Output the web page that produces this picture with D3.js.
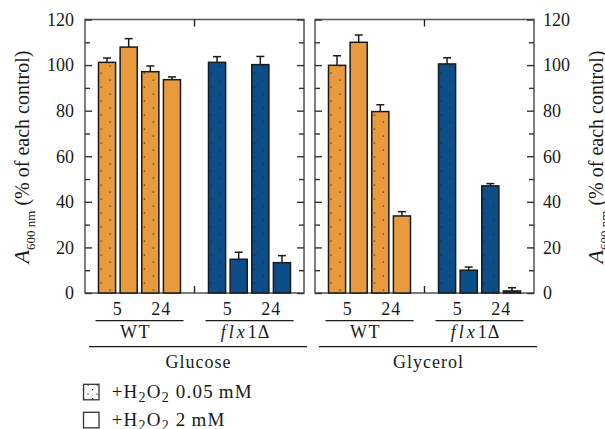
<!DOCTYPE html>
<html>
<head>
<meta charset="utf-8">
<script src="https://cdn.jsdelivr.net/npm/d3@7"></script>
<style>
    body { margin: 0; background: #fff; }
    text { font-family: "Liberation Serif", serif; fill: #1a1a1a; }
</style>
</head>
<body>
<svg id="chart"></svg>
<script>
// Data
const media = ["Glucose", "Glycerol"];
const strains = ["WT", "flx1Δ"];
const times = ["5", "24"];
const doses = ["0.05 mM", "2 mM"];
// order: strain, time, dose
const glucoseMean = [101.2, 107.9, 97.1, 93.6, 101.2, 14.8, 100.2, 13.3];
const glucoseErr = [1.9, 3.7, 2.5, 1.2, 2.5, 3.1, 3.6, 3.1];
const glycerolMean = [99.9, 110.0, 79.6, 33.8, 100.5, 10.0, 47.0, 0.9];
const glycerolErr = [4.2, 3.2, 3.0, 1.9, 2.7, 1.4, 1.0, 1.4];
const yTicks = [0, 20, 40, 60, 80, 100, 120];
const yMinorTicks = [10, 30, 50, 70, 90, 110];

const colors = { "WT": "#E89A3C", "flx1Δ": "#0B4E8A" };

const width = 605;
const height = 429;
const svg = d3.select("#chart").attr("width", width).attr("height", height);

// Build flat rows
const means = { Glucose: glucoseMean, Glycerol: glycerolMean };
const errs = { Glucose: glucoseErr, Glycerol: glycerolErr };
const barKeys = [];
times.forEach((t) => doses.forEach((d) => barKeys.push(t + "|" + d)));
const rows = [];
media.forEach((m) => {
    strains.forEach((s, si) => {
        barKeys.forEach((k, ki) => {
            const i = si * 4 + ki;
            rows.push({ medium: m, strain: s, key: k, time: k.split("|")[0], dose: k.split("|")[1], value: means[m][i], err: errs[m][i] });
        });
    });
});

// Scales
const y = d3.scaleLinear().domain([0, 120]).range([293, 19.5]);
const xPanel = d3.scaleBand().domain(media).range([85, 534]).paddingInner(0.0478);
const xStrain = d3.scaleBand().domain(strains).range([0, xPanel.bandwidth()]).paddingInner(0.2545).paddingOuter(0.1227);
const xBar = d3.scaleBand().domain(barKeys).range([0, xStrain.bandwidth()]).paddingInner(0.209);

// Dot patterns
const defs = svg.append("defs");
function dotPattern(id, fill) {
    const p = defs.append("pattern").attr("id", id).attr("patternUnits", "userSpaceOnUse").attr("width", 18).attr("height", 14);
    p.append("rect").attr("width", 18).attr("height", 14).attr("fill", fill);
    p.append("rect").attr("x", 2).attr("y", 2.5).attr("width", 1.2).attr("height", 1.2).attr("fill", "#222");
    p.append("rect").attr("x", 11).attr("y", 9.5).attr("width", 1.2).attr("height", 1.2).attr("fill", "#222");
}
dotPattern("dots-WT", colors["WT"]);
dotPattern("dots-flx", colors["flx1Δ"]);
defs.append("pattern").attr("id", "dots-legend").attr("patternUnits", "userSpaceOnUse").attr("width", 9).attr("height", 9)
    .call((p) => {
        p.append("rect").attr("width", 9).attr("height", 9).attr("fill", "#fff");
        p.append("rect").attr("x", 2).attr("y", 2).attr("width", 1.2).attr("height", 1.2).attr("fill", "#222");
        p.append("rect").attr("x", 6.5).attr("y", 6.5).attr("width", 1.2).attr("height", 1.2).attr("fill", "#222");
    });

const frameColor = "#5e5e5e";

// Panel frames and ticks
media.forEach((m, mi) => {
    const x0 = xPanel(m);
    const x1 = x0 + xPanel.bandwidth();
    const g = svg.append("g");

    g.append("rect")
        .attr("x", x0).attr("y", y(120))
        .attr("width", x1 - x0).attr("height", y(0) - y(120))
        .attr("fill", "none").attr("stroke", frameColor).attr("stroke-width", 1.6);

    // middle ticks on top and bottom
    const xm = (x0 + x1) / 2;
    g.append("line").attr("x1", xm).attr("x2", xm).attr("y1", y(120)).attr("y2", y(120) + 7).attr("stroke", "#222").attr("stroke-width", 1.4);
    g.append("line").attr("x1", xm).attr("x2", xm).attr("y1", y(0)).attr("y2", y(0) - 7).attr("stroke", "#222").attr("stroke-width", 1.4);

    // edge ticks point inward
    const leftAxis = d3.axisLeft(y).tickValues(yTicks).tickSize(-7).tickSizeOuter(0).tickPadding(11)
        .tickFormat(mi === 0 ? d3.format("d") : "");
    const leftMinor = d3.axisLeft(y).tickValues(yMinorTicks).tickSize(-5).tickSizeOuter(0).tickFormat("");
    const rightAxis = d3.axisRight(y).tickValues(yTicks).tickSize(-7).tickSizeOuter(0).tickPadding(9)
        .tickFormat(mi === 1 ? d3.format("d") : "");
    const rightMinor = d3.axisRight(y).tickValues(yMinorTicks).tickSize(-5).tickSizeOuter(0).tickFormat("");

    [[leftAxis, x0], [leftMinor, x0], [rightAxis, x1], [rightMinor, x1]].forEach(([ax, xx]) => {
        const a = g.append("g").attr("transform", `translate(${xx},0)`).call(ax);
        a.select(".domain").remove();
        a.selectAll("line").attr("stroke", "#333").attr("stroke-width", 1.4);
        a.selectAll("text").style("font-family", "'Liberation Serif', serif").style("font-size", "18px").attr("fill", "#1a1a1a");
    });
});

// Bars
const bars = svg.append("g").selectAll("g").data(rows).join("g")
    .attr("transform", (d) => `translate(${xPanel(d.medium) + xStrain(d.strain) + xBar(d.key)},0)`);

bars.append("rect")
    .attr("x", 0)
    .attr("y", (d) => y(d.value))
    .attr("width", xBar.bandwidth())
    .attr("height", (d) => y(0) - y(d.value))
    .attr("fill", (d) => d.dose === doses[0] ? (d.strain === "WT" ? "url(#dots-WT)" : "url(#dots-flx)") : colors[d.strain])
    .attr("stroke", "#1a1a1a")
    .attr("stroke-width", 1.5);

// Error bars (upward only)
const bw = xBar.bandwidth();
bars.append("line")
    .attr("x1", bw / 2).attr("x2", bw / 2)
    .attr("y1", (d) => y(d.value)).attr("y2", (d) => y(d.value + d.err))
    .attr("stroke", "#1a1a1a").attr("stroke-width", 1.5);
bars.append("line")
    .attr("x1", bw / 2 - 4).attr("x2", bw / 2 + 4)
    .attr("y1", (d) => y(d.value + d.err)).attr("y2", (d) => y(d.value + d.err))
    .attr("stroke", "#1a1a1a").attr("stroke-width", 1.5);

// Category labels under the panels
const labels = svg.append("g");
media.forEach((m) => {
    const x0 = xPanel(m);
    strains.forEach((s) => {
        const sx = x0 + xStrain(s);
        times.forEach((t) => {
            const a = sx + xBar(t + "|" + doses[0]);
            const b = sx + xBar(t + "|" + doses[1]) + xBar.bandwidth();
            labels.append("text").attr("x", (a + b) / 2).attr("y", 315)
                .attr("text-anchor", "middle").style("font-size", "18px").style("letter-spacing", "1px").text(t);
        });
        labels.append("line")
            .attr("x1", sx - 3).attr("x2", sx + xStrain.bandwidth() + 3)
            .attr("y1", 320.7).attr("y2", 320.7)
            .attr("stroke", "#1a1a1a").attr("stroke-width", 1.2);
        const st = labels.append("text").attr("x", sx + xStrain.bandwidth() / 2 - 4).attr("y", 338.3)
            .attr("text-anchor", "middle").style("font-size", "18px");
        if (s === "WT") {
            st.style("letter-spacing", "1.5px").text(s);
        } else {
            st.append("tspan").style("font-style", "italic").style("letter-spacing", "3px").text("flx");
            st.append("tspan").style("letter-spacing", "1px").text("1Δ");
        }
    });
    labels.append("line")
        .attr("x1", x0 + 4).attr("x2", x0 + xPanel.bandwidth() + 3)
        .attr("y1", 346.7).attr("y2", 346.7)
        .attr("stroke", "#1a1a1a").attr("stroke-width", 1.2);
    labels.append("text").attr("x", x0 + xPanel.bandwidth() / 2 + 4).attr("y", 368.3)
        .attr("text-anchor", "middle").style("font-size", "18px").style("letter-spacing", "1px").text(m);
});

// Y axis titles (the right one runs off the page edge, as in the figure)
function yTitle(xBase) {
    const t = svg.append("text")
        .attr("transform", `translate(${xBase},157) rotate(-90)`)
        .attr("text-anchor", "middle")
        .style("font-size", "20px");
    t.append("tspan").style("font-style", "italic").style("font-size", "22px").text("A");
    t.append("tspan").attr("dy", 6).style("font-size", "13px").text("600 nm");
    t.append("tspan").attr("dy", -6).text(" (% of each control)");
}
yTitle(29);
yTitle(603);

// Legend
const legend = svg.append("g");
doses.forEach((d, i) => {
    const ly = 384.3 + i * 28;
    legend.append("rect").attr("x", 83.5).attr("y", ly).attr("width", 15.5).attr("height", 15.5)
        .attr("fill", i === 0 ? "url(#dots-legend)" : "#fff")
        .attr("stroke", "#333").attr("stroke-width", 1.3);
    const t = legend.append("text").attr("x", 111.7).attr("y", ly + 14).style("font-size", "19px").style("letter-spacing", "1.2px");
    t.append("tspan").text("+H");
    t.append("tspan").attr("dy", 4).style("font-size", "14px").text("2");
    t.append("tspan").attr("dy", -4).text("O");
    t.append("tspan").attr("dy", 4).style("font-size", "14px").text("2");
    t.append("tspan").attr("dy", -4).text(" " + d.replace(" ", "\u2009"));
});
</script>
</body>
</html>
